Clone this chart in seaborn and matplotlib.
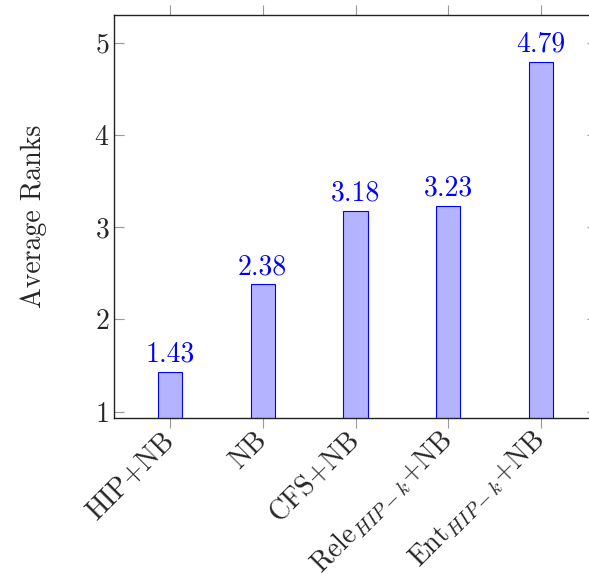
import matplotlib
matplotlib.use("Agg")
import matplotlib.pyplot as plt
import seaborn as sns
import pandas as pd

methods = ["HIP+NB", "NB", "CFS+NB", r"Rele$_{HIP-k}$+NB", r"Ent$_{HIP-k}$+NB"]
avg_ranks = [1.43, 2.38, 3.18, 3.23, 4.79]

sns.set_style("ticks")
plt.rcParams["font.family"] = ["serif"]
plt.rcParams["font.serif"] = ["cmr10", "DejaVu Serif"]
plt.rcParams["mathtext.fontset"] = "cm"
plt.rcParams["axes.formatter.use_mathtext"] = True

df = pd.DataFrame({"method": methods, "rank": avg_ranks})

fig = plt.figure(figsize=(5.89, 5.80), dpi=100)
ax = fig.add_axes([114 / 589, 1 - 418 / 580, (597 - 114) / 589, (418 - 15) / 580])

sns.barplot(data=df, x="method", y="rank", ax=ax, width=0.26,
            color=(0.7, 0.7, 1.0), edgecolor="blue", linewidth=0.8, saturation=1)

ax.bar_label(ax.containers[0], labels=[f"{v:.2f}" for v in avg_ranks],
             padding=3, color="blue", fontsize=20)

ax.set_ylim(0.93, 5.30)
ax.set_xlim(-0.6, 4.6)
ax.set_yticks([1, 2, 3, 4, 5])
ax.set_xlabel("")
ax.set_ylabel("Average Ranks", fontsize=20, labelpad=34)

ax.tick_params(axis="x", direction="out", top=True, bottom=True, length=7,
               color="#999999", labelsize=20, pad=6)
ax.tick_params(axis="y", direction="in", left=True, right=True, length=7,
               color="#999999", labelsize=20)
plt.setp(ax.get_xticklabels(), rotation=45, ha="right", va="center",
         rotation_mode="anchor")

for s in ax.spines.values():
    s.set_visible(True)
    s.set_color("#222222")
    s.set_linewidth(1.0)

fig.savefig("out.png", dpi=100)
